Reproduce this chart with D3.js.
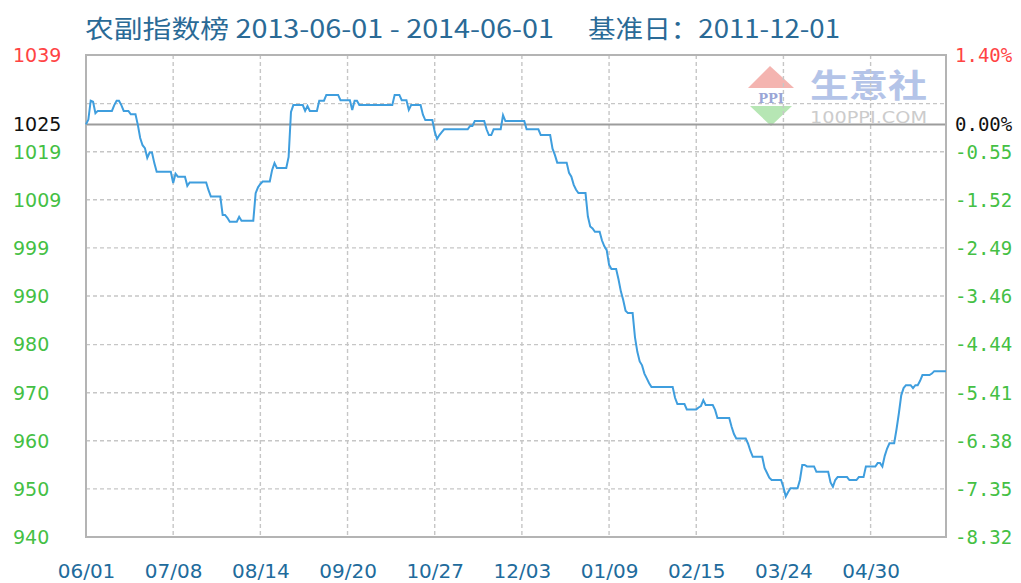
<!DOCTYPE html>
<html>
<head>
<meta charset="utf-8">
<script src="https://cdn.jsdelivr.net/npm/d3@7"></script>
<style>
  body { margin: 0; background: #fff; }
  svg { display: block; }
</style>
</head>
<body>
<script>
// 农副指数 daily index, vertices of the step line (date, index value)
const series = [
  ["2013-06-01",1025.0],["2013-06-02",1026.0],["2013-06-03",1029.9],["2013-06-04",1029.7],["2013-06-05",1027.3],
  ["2013-06-06",1027.8],["2013-06-12",1027.8],["2013-06-13",1029.0],["2013-06-14",1029.9],["2013-06-15",1029.9],
  ["2013-06-16",1029.0],["2013-06-17",1027.8],["2013-06-19",1027.8],["2013-06-20",1027.1],["2013-06-22",1027.1],
  ["2013-06-23",1024.9],["2013-06-24",1022.2],["2013-06-25",1020.7],["2013-06-26",1020.1],["2013-06-27",1018.1],
  ["2013-06-28",1019.2],["2013-06-29",1019.2],["2013-06-30",1017.0],["2013-07-01",1015.2],["2013-07-07",1015.2],
  ["2013-07-08",1012.9],["2013-07-09",1014.8],["2013-07-10",1014.2],["2013-07-13",1014.2],["2013-07-14",1012.3],
  ["2013-07-15",1013.0],["2013-07-22",1013.0],["2013-07-23",1011.4],["2013-07-24",1010.1],["2013-07-28",1010.1],
  ["2013-07-29",1006.3],["2013-07-30",1006.3],["2013-07-31",1005.7],["2013-08-01",1004.9],["2013-08-04",1004.9],
  ["2013-08-05",1005.9],["2013-08-06",1005.1],["2013-08-11",1005.1],["2013-08-12",1010.8],["2013-08-13",1012.0],
  ["2013-08-14",1012.7],["2013-08-15",1013.2],["2013-08-18",1013.2],["2013-08-19",1015.6],["2013-08-20",1017.0],
  ["2013-08-21",1016.0],["2013-08-25",1016.0],["2013-08-26",1018.3],["2013-08-27",1027.6],["2013-08-28",1029.0],
  ["2013-09-01",1029.0],["2013-09-02",1027.8],["2013-09-03",1028.8],["2013-09-04",1027.8],["2013-09-07",1027.8],
  ["2013-09-08",1029.9],["2013-09-10",1029.9],["2013-09-11",1031.1],["2013-09-16",1031.1],["2013-09-17",1030.0],
  ["2013-09-21",1030.0],["2013-09-22",1028.0],["2013-09-23",1029.9],["2013-09-24",1029.9],["2013-09-25",1029.0],
  ["2013-10-09",1029.0],["2013-10-10",1031.1],["2013-10-12",1031.1],["2013-10-13",1030.0],["2013-10-15",1030.0],
  ["2013-10-16",1028.0],["2013-10-17",1029.0],["2013-10-21",1029.0],["2013-10-22",1027.0],["2013-10-23",1025.9],
  ["2013-10-26",1025.9],["2013-10-27",1023.5],["2013-10-28",1022.0],["2013-10-29",1022.8],["2013-10-30",1023.4],
  ["2013-10-31",1024.0],["2013-11-10",1024.0],["2013-11-11",1024.7],["2013-11-12",1024.7],["2013-11-13",1025.7],
  ["2013-11-17",1025.7],["2013-11-18",1024.0],["2013-11-19",1022.8],["2013-11-20",1022.8],["2013-11-21",1024.0],
  ["2013-11-24",1024.0],["2013-11-25",1026.9],["2013-11-26",1025.7],["2013-12-04",1025.7],["2013-12-05",1024.0],
  ["2013-12-10",1024.0],["2013-12-11",1022.8],["2013-12-15",1022.8],["2013-12-16",1020.0],["2013-12-17",1018.7],
  ["2013-12-18",1017.1],["2013-12-22",1017.1],["2013-12-23",1015.0],["2013-12-24",1014.2],["2013-12-25",1012.5],
  ["2013-12-26",1011.5],["2013-12-27",1010.8],["2013-12-30",1010.8],["2013-12-31",1006.0],["2014-01-01",1003.9],
  ["2014-01-02",1003.5],["2014-01-03",1002.8],["2014-01-05",1002.8],["2014-01-06",1001.0],["2014-01-07",999.8],
  ["2014-01-08",999.0],["2014-01-09",996.0],["2014-01-10",995.1],["2014-01-12",995.1],["2014-01-13",993.0],
  ["2014-01-14",990.5],["2014-01-15",988.7],["2014-01-16",986.5],["2014-01-17",986.0],["2014-01-19",986.0],
  ["2014-01-20",981.0],["2014-01-21",978.0],["2014-01-22",976.0],["2014-01-23",975.2],["2014-01-24",973.5],
  ["2014-01-25",972.5],["2014-01-26",971.5],["2014-01-27",970.7],["2014-02-05",970.7],["2014-02-06",968.5],
  ["2014-02-07",967.2],["2014-02-10",967.2],["2014-02-11",966.1],["2014-02-15",966.1],["2014-02-16",966.5],
  ["2014-02-17",966.8],["2014-02-18",968.0],["2014-02-19",967.0],["2014-02-22",967.0],["2014-02-23",966.0],
  ["2014-02-24",964.3],["2014-03-01",964.3],["2014-03-02",962.5],["2014-03-03",961.0],["2014-03-04",960.1],
  ["2014-03-08",960.1],["2014-03-09",959.0],["2014-03-10",957.5],["2014-03-11",956.3],["2014-03-15",956.3],
  ["2014-03-16",954.0],["2014-03-17",953.0],["2014-03-18",952.0],["2014-03-19",951.5],["2014-03-23",951.5],
  ["2014-03-24",950.0],["2014-03-25",948.1],["2014-03-26",949.0],["2014-03-27",949.8],["2014-03-30",949.8],
  ["2014-03-31",951.5],["2014-04-01",954.6],["2014-04-02",954.6],["2014-04-03",954.3],["2014-04-06",954.3],
  ["2014-04-07",953.2],["2014-04-12",953.2],["2014-04-13",951.0],["2014-04-14",950.1],["2014-04-15",951.5],
  ["2014-04-16",952.1],["2014-04-20",952.1],["2014-04-21",951.5],["2014-04-24",951.5],["2014-04-25",952.1],
  ["2014-04-27",952.1],["2014-04-28",954.3],["2014-05-02",954.3],["2014-05-03",955.0],["2014-05-04",955.0],
  ["2014-05-05",954.3],["2014-05-06",956.5],["2014-05-07",958.0],["2014-05-08",959.1],["2014-05-10",959.1],
  ["2014-05-11",962.0],["2014-05-12",965.3],["2014-05-13",969.0],["2014-05-14",970.5],["2014-05-15",971.1],
  ["2014-05-17",971.1],["2014-05-18",970.5],["2014-05-19",971.1],["2014-05-20",971.1],["2014-05-21",972.0],
  ["2014-05-22",973.2],["2014-05-25",973.2],["2014-05-26",973.5],["2014-05-27",974.0],["2014-06-01",974.0]
];

const baseValue = 1025;   // 基准日 2011-12-01
const dateRange = ["2013-06-01", "2014-06-01"];
const xTickDates = ["2013-06-01","2013-07-08","2013-08-14","2013-09-20","2013-10-27",
                    "2013-12-03","2014-01-09","2014-02-15","2014-03-24","2014-04-30"];

// y ticks in percent vs base, with the labels shown on each side
const tickPct     = [-8.32, -7.35, -6.38, -5.41, -4.44, -3.46, -2.49, -1.52, -0.55, 0, 1.40];
const leftLabels  = ["940","950","960","970","980","990","999","1009","1019","1025","1039"];
const rightLabels = ["-8.32","-7.35","-6.38","-5.41","-4.44","-3.46","-2.49","-1.52","-0.55","0.00%","1.40%"];
const gridPct     = [-7.35, -6.38, -5.41, -4.44, -3.46, -2.49, -1.52, -0.55, 0.42];

const W = 1021, H = 583;
const plot = { left: 86, right: 946, top: 55, bottom: 537 };

const parse = d3.timeParse("%Y-%m-%d");
const fmt = d3.timeFormat("%m/%d");

const x = d3.scaleTime()
  .domain(dateRange.map(parse))
  .range([plot.left, plot.right]);

const y = d3.scaleLinear()
  .domain([tickPct[0], tickPct[tickPct.length - 1]])
  .range([plot.bottom, plot.top]);

const toPct = v => (v / baseValue - 1) * 100;

const svg = d3.select("body").append("svg")
  .attr("width", W)
  .attr("height", H);

svg.append("rect").attr("width", W).attr("height", H).attr("fill", "#fff");

// watermark logo
const logo = svg.append("g").attr("transform", "translate(748,66)");
logo.append("path").attr("d", "M22,0 L46,22 L0,22 Z").attr("fill", "#f4b4b0");
logo.append("path").attr("d", "M2,40 L44,40 L23,60 Z").attr("fill", "#b6e6b4");
logo.append("rect").attr("x", 4).attr("y", 24).attr("width", 38).attr("height", 14).attr("fill", "#fff");
logo.append("text").attr("x", 23).attr("y", 37).attr("text-anchor", "middle")
  .attr("font-family", "DejaVu Serif").attr("font-weight", "bold").attr("font-size", 13)
  .attr("fill", "#9aa6d6").text("PPI");
logo.append("text").attr("x", 62).attr("y", 31)
  .attr("font-family", "Noto Sans CJK SC").attr("font-weight", "bold").attr("font-size", 32)
  .attr("fill", "#b4c4e8").attr("textLength", 117).attr("lengthAdjust", "spacingAndGlyphs")
  .text("生意社");
logo.append("text").attr("x", 62).attr("y", 57)
  .attr("font-family", "DejaVu Sans").attr("font-size", 16)
  .attr("fill", "#cccccc").attr("textLength", 117).attr("lengthAdjust", "spacingAndGlyphs")
  .text("100PPI.COM");

// grid
const grid = svg.append("g")
  .attr("stroke", "#c6c6c6").attr("stroke-width", 1.4).attr("stroke-dasharray", "4,3");

grid.selectAll(".hg").data(gridPct).enter().append("line")
  .attr("x1", plot.left).attr("x2", plot.right)
  .attr("y1", d => y(d)).attr("y2", d => y(d));

grid.selectAll(".vg").data(xTickDates.slice(1)).enter().append("line")
  .attr("x1", d => x(parse(d))).attr("x2", d => x(parse(d)))
  .attr("y1", plot.top).attr("y2", plot.bottom);

// base line (0%)
svg.append("line")
  .attr("x1", plot.left).attr("x2", plot.right)
  .attr("y1", y(0)).attr("y2", y(0))
  .attr("stroke", "#9c9c9c").attr("stroke-width", 2);

// border
svg.append("rect")
  .attr("x", plot.left).attr("y", plot.top)
  .attr("width", plot.right - plot.left).attr("height", plot.bottom - plot.top)
  .attr("fill", "none").attr("stroke", "#b4b4b4").attr("stroke-width", 2);

// series line
const line = d3.line()
  .x(d => x(parse(d[0])))
  .y(d => y(toPct(d[1])));

svg.append("path")
  .datum(series)
  .attr("fill", "none")
  .attr("stroke", "#3f9ede")
  .attr("stroke-width", 2)
  .attr("stroke-linejoin", "miter")
  .attr("d", line);

// label colours: red at top, black at base, green below
const labelColor = i => i === tickPct.length - 1 ? "#ff4444" : (tickPct[i] === 0 ? "#111" : "#44c044");

svg.append("g").selectAll("text").data(tickPct).enter().append("text")
  .attr("x", 13).attr("y", d => y(d)).attr("dy", "0.36em")
  .attr("font-family", "DejaVu Sans").attr("font-size", 19)
  .attr("fill", (d, i) => labelColor(i))
  .text((d, i) => leftLabels[i]);

svg.append("g").selectAll("text").data(tickPct).enter().append("text")
  .attr("x", 955).attr("y", d => y(d)).attr("dy", "0.36em")
  .attr("font-family", "DejaVu Sans Mono").attr("font-size", 19)
  .attr("fill", (d, i) => labelColor(i))
  .text((d, i) => rightLabels[i]);

// x axis labels
const xAxis = d3.axisBottom(x)
  .tickValues(xTickDates.map(parse))
  .tickFormat(fmt)
  .tickSize(0)
  .tickPadding(27);

const gx = svg.append("g")
  .attr("transform", "translate(0," + plot.bottom + ")")
  .call(xAxis);
gx.select(".domain").remove();
gx.selectAll("text")
  .attr("dy", 0)
  .attr("font-family", "DejaVu Sans")
  .attr("font-size", 20)
  .attr("fill", "#216b9c")
  .attr("y", 41);

// title
svg.append("text")
  .attr("x", 85).attr("y", 38)
  .attr("font-family", "Noto Sans CJK SC").attr("font-size", 25)
  .attr("fill", "#2a6a96")
  .attr("textLength", 469).attr("lengthAdjust", "spacingAndGlyphs")
  .text("农副指数榜 2013-06-01 - 2014-06-01");
svg.append("text")
  .attr("x", 588).attr("y", 38)
  .attr("font-family", "Noto Sans CJK SC").attr("font-size", 25)
  .attr("fill", "#2a6a96")
  .attr("textLength", 252).attr("lengthAdjust", "spacingAndGlyphs")
  .text("基准日：2011-12-01");
</script>
</body>
</html>
